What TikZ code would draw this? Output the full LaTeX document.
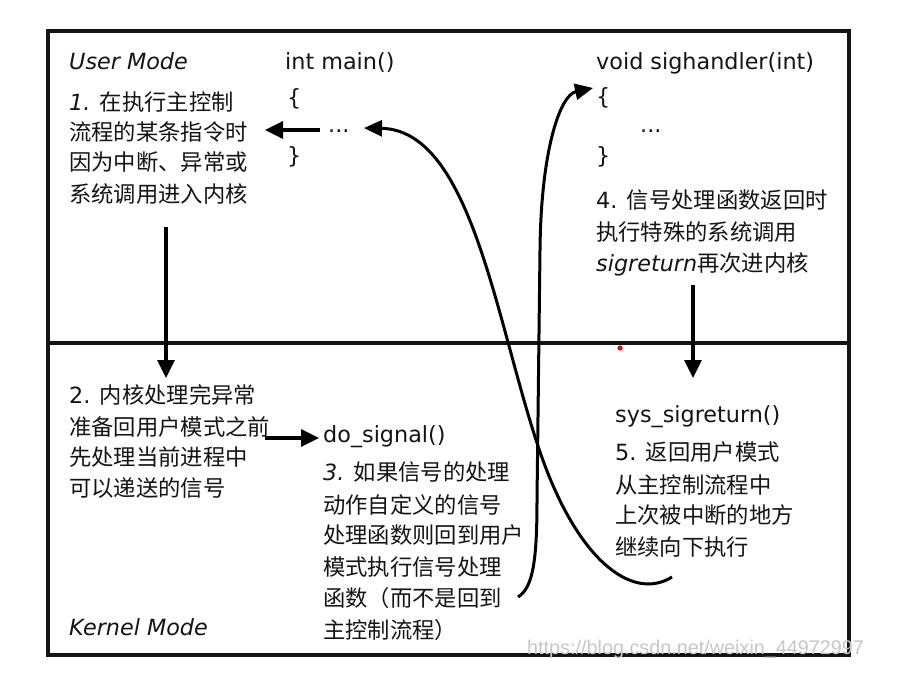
\documentclass[tikz,border=0pt]{standalone}
\usepackage{fontspec}
\setmainfont{DejaVu Sans}
\newfontfamily\cjk{Noto Sans CJK SC}
\newfontfamily\wmfont{Liberation Sans}
\usetikzlibrary{arrows.meta}
\tikzset{
  txt/.style={anchor=base west, inner sep=0pt, text=black!92, font=\fontsize{22.3}{30}\selectfont},
  itxt/.style={txt, font=\fontsize{22.3}{30}\selectfont\itshape},
  frame/.style={line width=3.5pt, black!92},
  arr/.style={line width=3.2pt, black, -{Triangle[length=18pt,width=17pt]}},
  curve/.style={line width=3pt, black, -{Triangle[length=18pt,width=16pt]}},
}
\begin{document}
\begin{tikzpicture}[x=1pt,y=-1pt]
\useasboundingbox[fill=white] (0,0) rectangle (902,682);
% frame
\draw[frame] (48,31) rectangle (849,655);
\draw[frame] (48,343) -- (849,343);
\fill[red] (620,348) circle (2.6pt);

% user mode, left
\node[itxt] (um) at (69,70) {User Mode};
\node[txt] (l1a) at (69,111) {\textit{1.} {\cjk 在执行主控制}};
\node[txt] (l1b) at (69,141) {\cjk 流程的某条指令时};
\node[txt] (l1c) at (69,171) {\cjk 因为中断、异常或};
\node[txt] (l1d) at (69,202) {\cjk 系统调用进入内核};

% main
\node[txt] (mainf) at (285,70) {int main()};
\node[txt] (mob) at (287,106) {\{};
\node[txt] (mdots) at (328,132) {...};
\node[txt] (mcb) at (287,164) {\}};

% sighandler
\node[txt] (sigf) at (596,70) {void sighandler(int)};
\node[txt] (sob) at (596,105) {\{};
\node[txt] (sdots) at (640,132) {...};
\node[txt] (scb) at (596,164) {\}};
\node[txt] (l4a) at (596,208) {4. {\cjk 信号处理函数返回时}};
\node[txt] (l4b) at (596,240) {\cjk 执行特殊的系统调用};
\node[txt] (l4c) at (596,271) {\textit{sigreturn}{\cjk 再次进内核}};

% kernel mode, left
\node[txt] (l2a) at (69,403) {2. {\cjk 内核处理完异常}};
\node[txt] (l2b) at (69,435) {\cjk 准备回用户模式之前};
\node[txt] (l2c) at (69,465) {\cjk 先处理当前进程中};
\node[txt] (l2d) at (69,496) {\cjk 可以递送的信号};
\node[itxt] (km) at (69,635) {Kernel Mode};

% do_signal
\node[txt] (dosig) at (323,442) {do\_signal()};
\node[txt] (l3a) at (323,480) {\textit{3.} {\cjk 如果信号的处理}};
\node[txt] (l3b) at (323,513) {\cjk 动作自定义的信号};
\node[txt] (l3c) at (323,543) {\cjk 处理函数则回到用户};
\node[txt] (l3d) at (323,575) {\cjk 模式执行信号处理};
\node[txt] (l3e) at (323,606) {\cjk 函数（而不是回到};
\node[txt] (l3f) at (323,638) {\cjk 主控制流程）};

% sys_sigreturn
\node[txt] (sysr) at (615,422) {sys\_sigreturn()};
\node[txt] (l5a) at (615,460) {5. {\cjk 返回用户模式}};
\node[txt] (l5b) at (615,493) {\cjk 从主控制流程中};
\node[txt] (l5c) at (615,523) {\cjk 上次被中断的地方};
\node[txt] (l5d) at (615,555) {\cjk 继续向下执行};

% watermark
\node[anchor=base west, inner sep=0pt, text=black!22, font=\wmfont\fontsize{19.8}{22}\selectfont] (wm) at (527,654) {https://blog.csdn.net/weixin\_44972997};

% connector end points
\coordinate (a1s) at (320,130);
\coordinate (a1e) at (265,130);
\coordinate (d1s) at (166,227);
\coordinate (d1e) at (166,378);
\coordinate (d2s) at (693,285);
\coordinate (d2e) at (693,378);
\coordinate (rs) at (265,438);
\coordinate (re) at (319,438);
\coordinate (cAs) at (672,577);
\coordinate (cAm) at (537,443);
\coordinate (cAe) at (364,128);
\coordinate (cBs) at (518,597);
\coordinate (cBm) at (537,500);
\coordinate (cBn) at (540,250);
\coordinate (cBe) at (593,88);

\draw[arr] (a1s) -- (a1e);
\draw[arr] (d1s) -- (d1e);
\draw[arr] (d2s) -- (d2e);
\draw[arr] (rs) -- (re);

\draw[curve] (cAs) .. controls (632,602) and (575,560) .. (cAm)
  .. controls (495,315) and (470,130) .. (cAe);
\draw[curve] (cBs) .. controls (533,588) and (537,560) .. (cBm)
  -- (cBn) .. controls (541,150) and (560,95) .. (cBe);
\end{tikzpicture}
\end{document}
